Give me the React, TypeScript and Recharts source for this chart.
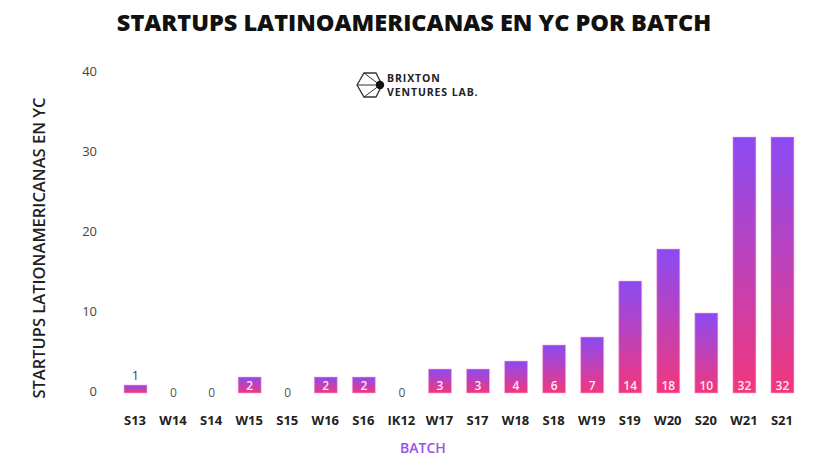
import React from 'react';
import { BarChart, Bar, XAxis, YAxis } from 'recharts';

const batches = ['S13', 'W14', 'S14', 'W15', 'S15', 'W16', 'S16', 'IK12', 'W17', 'S17', 'W18', 'S18', 'W19', 'S19', 'W20', 'S20', 'W21', 'S21'];
const startups = [1, 0, 0, 2, 0, 2, 2, 0, 3, 3, 4, 6, 7, 14, 18, 10, 32, 32];
const yTicks = [0, 10, 20, 30, 40];

const data = batches.map((b, i) => ({ batch: b, value: startups[i] }));

const FONT = '"Open Sans", "Noto Sans", sans-serif';

const BarShape = (props: any) => {
  const { x, y, width, height, value } = props;
  const v = Array.isArray(value) ? value[1] - value[0] : value;
  const cx = x + width / 2;
  if (!v) {
    return (
      <text x={cx} y={y + height - 1} textAnchor="middle" dominantBaseline="central" fontSize={12} fill="#555" fontFamily={FONT}>
        0
      </text>
    );
  }
  return (
    <g>
      <rect x={x} y={y} width={width} height={height} fill="url(#barGrad)" stroke="rgba(255,170,215,0.55)" strokeWidth={1} />
      {v === 1 ? (
        <text x={cx} y={y - 10} textAnchor="middle" dominantBaseline="central" fontSize={12} fill="#333" fontFamily={FONT}>
          {v}
        </text>
      ) : (
        <text x={cx} y={y + height - 8} textAnchor="middle" dominantBaseline="central" fontSize={12} fontWeight={600} fill="rgba(255,255,255,0.9)" fontFamily={FONT}>
          {v}
        </text>
      )}
    </g>
  );
};

const YLabel = (props: any) => {
  const vb = props.viewBox || { x: 0, y: 0, height: 0 };
  const x = 38;
  const y = vb.y + vb.height / 2 + 15;
  return (
    <text x={x} y={y} transform={`rotate(-90, ${x}, ${y})`} textAnchor="middle" dominantBaseline="central" fontSize={16.5} fontWeight={600} fill="#222" fontFamily={FONT}>
      STARTUPS LATIONAMERICANAS EN YC
    </text>
  );
};

const XLabel = () => (
  <text x={423} y={447} textAnchor="middle" dominantBaseline="central" fontSize={14} fontWeight={600} fill="#9b50e6" fontFamily={FONT}>
    BATCH
  </text>
);

const Logo = () => (
  <svg width={828} height={454} style={{ position: 'absolute', left: 0, top: 0, pointerEvents: 'none' }}>
    <polygon points="357,85 364,73 376,73 382,85 376,97 364,97" fill="none" stroke="#333" strokeWidth={1.3} />
    <line x1={380} y1={85} x2={364} y2={73} stroke="#333" strokeWidth={1} />
    <line x1={380} y1={85} x2={357} y2={85} stroke="#333" strokeWidth={1} />
    <line x1={380} y1={85} x2={364} y2={97} stroke="#333" strokeWidth={1} />
    <circle cx={380} cy={85} r={4.2} fill="#111" />
    <text x={387} y={82} fontSize={10.5} fontWeight={700} fill="#222" fontFamily={FONT} letterSpacing={0.9}>BRIXTON</text>
    <text x={387} y={96} fontSize={10.5} fontWeight={700} fill="#222" fontFamily={FONT} letterSpacing={0.9}>VENTURES LAB.</text>
  </svg>
);

export default function App() {
  return (
    <div style={{ position: 'absolute', left: 0, top: 0, width: 828, height: 454, background: '#fff' }}>
      <div style={{ position: 'absolute', left: 0, top: 6, width: 828, textAlign: 'center', fontFamily: FONT, fontWeight: 800, fontSize: 23.5, color: '#111', letterSpacing: 0 }}>
        STARTUPS LATINOAMERICANAS EN YC POR BATCH
      </div>
      <BarChart width={828} height={454} data={data} margin={{ top: 73, right: 27, bottom: 31, left: 0 }}>
        <defs>
          <linearGradient id="barGrad" x1="0" y1="0" x2="0" y2="1">
            <stop offset="0%" stopColor="#8a4bf4" />
            <stop offset="100%" stopColor="#f2377c" />
          </linearGradient>
        </defs>
        <XAxis dataKey="batch" height={30} axisLine={false} tickLine={false} tickSize={0} tickMargin={23} interval={0}
          tick={{ fontSize: 13, fontWeight: 700, fill: '#222', fontFamily: FONT }} label={<XLabel />} />
        <YAxis width={116} domain={[0, 40]} ticks={yTicks} axisLine={false} tickLine={false} tickSize={0} tickMargin={19}
          tick={{ fontSize: 13, fill: '#444', fontFamily: FONT, dy: -2 }} label={<YLabel />} />
        <Bar dataKey="value" barSize={23} fill="url(#barGrad)" shape={<BarShape />} isAnimationActive={false} />
      </BarChart>
      <Logo />
    </div>
  );
}
